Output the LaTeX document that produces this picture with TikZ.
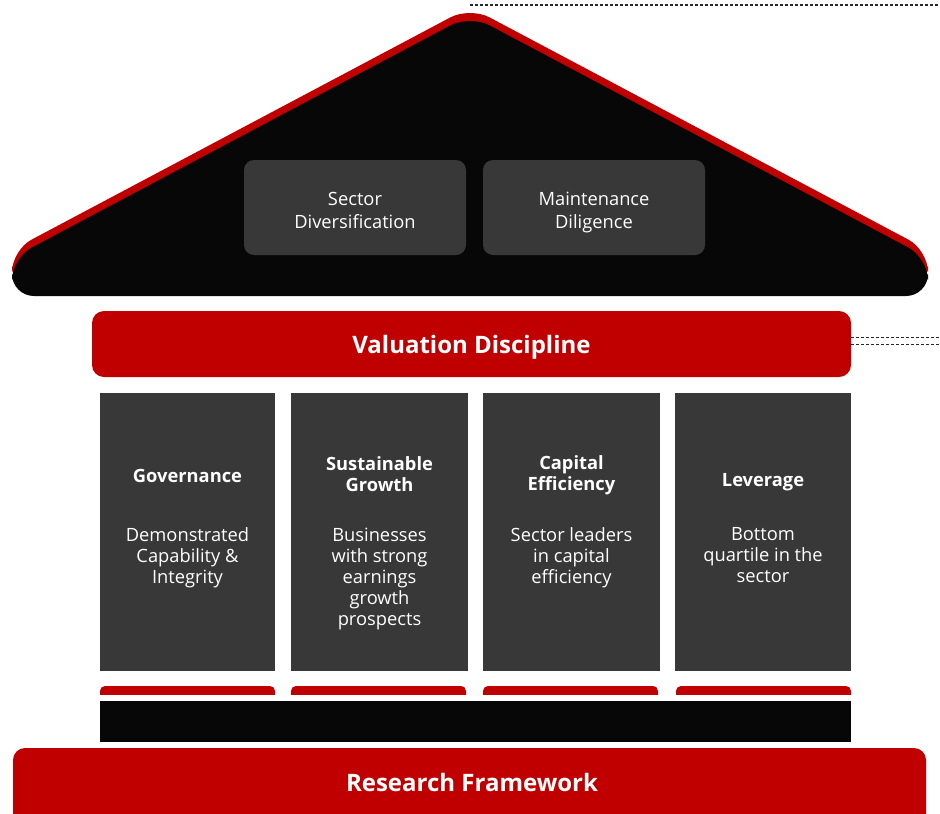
\documentclass[tikz,border=0pt]{standalone}
\usepackage{fontspec}
\setmainfont{Open Sans}
\definecolor{hred}{HTML}{C00000}
\definecolor{hblack}{HTML}{070707}
\definecolor{hgray}{HTML}{383838}
\begin{document}
\begin{tikzpicture}[x=1pt,y=-1pt,
  inner/.style={fill=hgray,rounded corners=10pt},
  pillar/.style={fill=hgray},
  capbar/.style={fill=hred,rounded corners=5pt},
  ptitle/.style={text=white,font=\fontsize{18.3}{21}\selectfont\bfseries,align=center,inner sep=0pt},
  pdesc/.style={text=white,font=\fontsize{18.3}{21}\selectfont,align=center,inner sep=0pt,anchor=north},
  itext/.style={text=white,font=\fontsize{18.3}{23}\selectfont,align=center,inner sep=0pt},
  bartext/.style={text=white,font=\fontsize{24}{28}\selectfont\bfseries,inner sep=0pt},
  dashline/.style={draw=black!85,line width=1.3pt,dash pattern=on 3pt off 2pt}]
\useasboundingbox (0,0) rectangle (940,814);
% roof
\fill[hred,rounded corners=22pt] (12,288) -- (12,250) -- (470,7) -- (928,250) -- (928,288) -- cycle;
\fill[hblack,rounded corners=22pt] (12,296) -- (12,258) -- (470,15) -- (928,258) -- (928,296) -- cycle;
\coordinate (apex) at (470,5);
\coordinate (topend) at (940,5);
\draw[dashline] (apex) -- (topend);
% inner boxes
\fill[inner] (244,160) rectangle (466,255);
\node[itext] (sd) at (355,210) {Sector\\Diversification};
\fill[inner] (483,160) rectangle (705,255);
\node[itext] (md) at (594,212.5) {Maintenance\\Diligence};
% valuation bar
\fill[hred,rounded corners=12pt] (92,311) rectangle (851,377);
\node[bartext] (vd) at (471.5,347.5) {Valuation Discipline};
\coordinate (vdr1) at (851,337.5);
\coordinate (vdr2) at (851,344.5);
\coordinate (vde1) at (940,337.5);
\coordinate (vde2) at (940,344.5);
\draw[dashline,line width=1.2pt] (vdr1) -- (vde1);
\draw[dashline,line width=1.2pt] (vdr2) -- (vde2);
% pillars
\fill[pillar] (100,393) rectangle (275,671);
\fill[pillar] (291,393) rectangle (468,671);
\fill[pillar] (483,393) rectangle (660,671);
\fill[pillar] (675,393) rectangle (851,671);
\node[ptitle] (t1) at (187.5,476) {Governance};
\node[ptitle] (t2) at (379.5,474.5) {Sustainable\\Growth};
\node[ptitle] (t3) at (571.5,475) {Capital\\Efficiency};
\node[ptitle] (t4) at (763,482.5) {Leverage};
\node[pdesc] (d1) at (187.5,527.5) {Demonstrated\\Capability \&\\Integrity};
\node[pdesc] (d2) at (379.5,527.5) {Businesses\\with strong\\earnings\\growth\\prospects};
\node[pdesc] (d3) at (571.5,527.5) {Sector leaders\\in capital\\efficiency};
\node[pdesc] (d4) at (763,527.5) {Bottom\\quartile in the\\sector};
% caps
\begin{scope}
\clip (0,686) rectangle (940,694);
\fill[capbar] (100,686) rectangle (275,704);
\fill[capbar] (291,686) rectangle (466,704);
\fill[capbar] (483,686) rectangle (658,704);
\fill[capbar] (676,686) rectangle (851,704);
\end{scope}
\fill[hblack] (100,701) rectangle (851,742);
% research framework
\fill[hred,rounded corners=12pt] (13,830) -- (13,748) -- (926,748) -- (926,830) -- cycle;
\node[bartext] (rf) at (472,782) {Research Framework};
\end{tikzpicture}
\end{document}
